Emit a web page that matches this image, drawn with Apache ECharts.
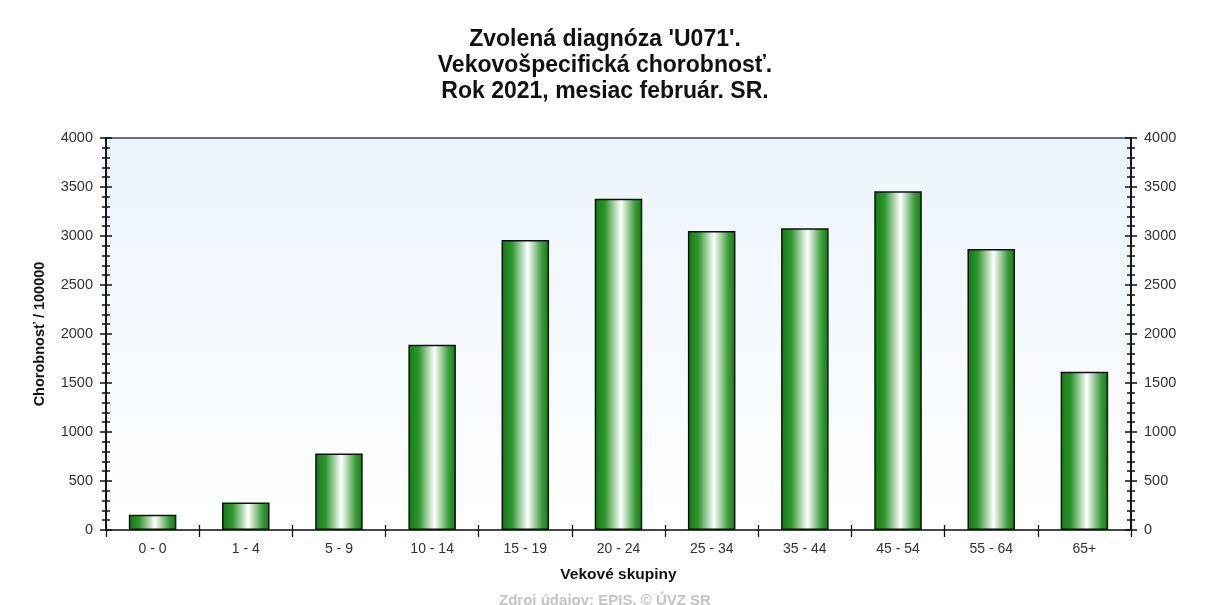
<!DOCTYPE html>
<html><head><meta charset="utf-8">
<script src="https://cdn.jsdelivr.net/npm/echarts@6/dist/echarts.min.js"></script>
<style>html,body{margin:0;padding:0;background:#fff}#c{width:1210px;height:605px}</style>
</head><body><div id="c"></div>
<script>
const categories = ['0 - 0','1 - 4','5 - 9','10 - 14','15 - 19','20 - 24','25 - 34','35 - 44','45 - 54','55 - 64','65+'];
const values = [155, 280, 780, 1890, 2960, 3380, 3050, 3080, 3456, 2867, 1615];
const titleLines = ["Zvolená diagnóza 'U071'.", "Vekovošpecifická chorobnosť.", "Rok 2021, mesiac február. SR."];
const yName = 'Chorobnosť / 100000';
const xName = 'Vekové skupiny';
const source = 'Zdroj údajov: EPIS, © ÚVZ SR';

const font = 'Liberation Sans, Arial, sans-serif';
const chart = echarts.init(document.getElementById('c'));
function yAx(pos, inside, labels){
  return {type:'value', min:0, max:4000, interval:500, position:pos,
    axisLine:{show:true, lineStyle:{color:'#111', width:1.5}},
    axisTick:{show:true, inside:inside, length:6, lineStyle:{color:'#111', width:1.5}},
    minorTick:{show:true, splitNumber:5, length:4, lineStyle:{color:'#111', width:1.5}},
    splitLine:{show:false},
    axisLabel:{show:labels, color:'#333', fontFamily:font, fontSize:14.5, margin:13,
      formatter:function(v){return String(v);}},
  };
}
function xAx(inside, labels){
  return {type:'category', data:categories, position:'bottom',
    axisLine:{show:true, lineStyle:{color:'#444', width:1.5}},
    axisTick:{show:true, inside:inside, length: inside?5:7, lineStyle:{color:'#111', width:1.3}},
    axisLabel:{show:labels, color:'#333', fontFamily:font, fontSize:14, margin:12},
    splitLine:{show:false}
  };
}
const xa = xAx(false, true);
xa.name = xName; xa.nameLocation='middle'; xa.nameGap=37;
xa.nameTextStyle={fontFamily:font, fontSize:15.5, fontWeight:'bold', color:'#111'};
const ya = yAx('left', false, true);
ya.name = yName; ya.nameLocation='middle'; ya.nameGap=59; ya.nameRotate=90;
ya.nameTextStyle={fontFamily:font, fontSize:14.5, fontWeight:'bold', color:'#111'};
chart.setOption({
  animation:false,
  title:{text:titleLines.join('\n'), left:'center', top:22,
    textStyle:{fontFamily:font, fontSize:23, fontWeight:'bold', color:'#111', lineHeight:26}},
  graphic:[{type:'text', left:'center', top:593, style:{text:source, fontFamily:font, fontSize:15, fontWeight:'bold', fill:'#c4c4c4'}}],
  grid:{left:106, right:79, top:138, bottom:75, show:true, borderWidth:1.5, borderColor:'#444',
    backgroundColor:new echarts.graphic.LinearGradient(0,0,0,1,[{offset:0,color:'#ebf4fd'},{offset:1,color:'#ffffff'}])},
  xAxis:[xa, xAx(true,false)],
  yAxis:[ya, yAx('left', true, false), yAx('right', false, true), yAx('right', true, false)],
  series:[{type:'bar', data:values, barWidth:'51%',
    itemStyle:{borderColor:'#111', borderWidth:1.5,
      color:new echarts.graphic.LinearGradient(0,0,1,0,[
        {offset:0,color:'#0f7d0f'},{offset:0.22,color:'#2f962f'},{offset:0.55,color:'#ffffff'},{offset:0.85,color:'#3a9c3a'},{offset:1,color:'#0f7d0f'}])}}]
});
</script></body></html>
